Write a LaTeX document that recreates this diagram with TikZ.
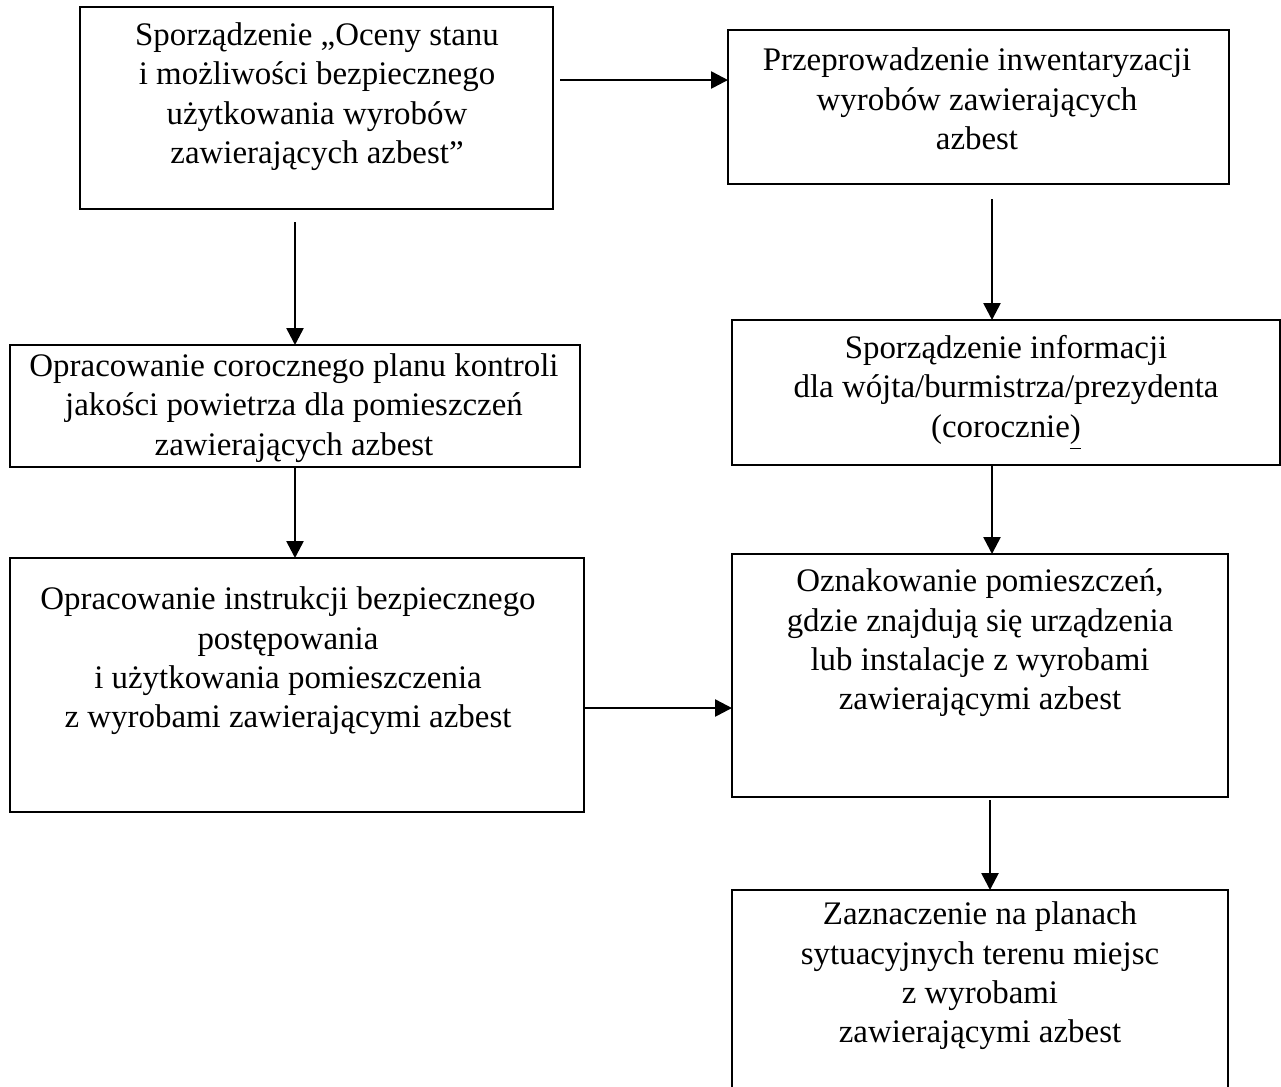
\documentclass[tikz,border=0pt]{standalone}
\usepackage{fontspec}
\setmainfont{Liberation Serif}
\usepackage{tikz}
\usetikzlibrary{arrows.meta,positioning,calc}
\newcommand{\px}{0.0125cm}
\tikzset{
	ramka/.style 2 args={draw, line width=0.9pt, inner sep=0pt, outer sep=0pt,
		minimum width=#1*\px, minimum height=#2*\px},
	tekst/.style={align=center, inner sep=0pt, font=\fontsize{11.7}{14}\selectfont},
	strzalka/.style={line width=0.9pt, -{Triangle[length=6pt,width=6pt]}}
}

\begin{document}
\begin{tikzpicture}[x=\px, y=-\px]
		\useasboundingbox (0,0) rectangle (1281,1086);
		% ramki
		\node[ramka={473}{202}] (A) at (316.5,108) {};
		\node[ramka={501}{154}] (B) at (978.5,107) {};
		\node[ramka={570}{122}] (C) at (295,406) {};
		\node[ramka={548}{145}] (D) at (1006,392.5) {};
		\node[ramka={574}{254}] (E) at (297,685) {};
		\node[ramka={496}{243}] (F) at (980,675.5) {};
		\node[ramka={496}{220}] (G) at (980,1000) {};
		% teksty
		\node[tekst] (At) at (317,96.5) {Sporządzenie „Oceny stanu\\ i możliwości bezpiecznego\\ użytkowania wyrobów\\ zawierających azbest”};
		\node[tekst] (Bt) at (977,99) {Przeprowadzenie inwentaryzacji\\ wyrobów zawierających\\ azbest};
		\node[tekst] (Ct) at (294,408) {Opracowanie corocznego planu kontroli\\ jakości powietrza dla pomieszczeń\\ zawierających azbest};
		\node[tekst] (Dt) at (1006,392.5) {Sporządzenie informacji\\ dla wójta/burmistrza/prezydenta\\ (corocznie\underline{)}};
		\node[tekst] (Et) at (288,661) {Opracowanie instrukcji bezpiecznego\\ postępowania\\ i użytkowania pomieszczenia\\ z wyrobami zawierającymi azbest};
		\node[tekst] (Ft) at (980,643) {Oznakowanie pomieszczeń,\\ gdzie znajdują się urządzenia\\ lub instalacje z wyrobami\\ zawierającymi azbest};
		\node[tekst] (Gt) at (980,976) {Zaznaczenie na planach\\ sytuacyjnych terenu miejsc\\ z wyrobami\\ zawierającymi azbest};
		% strzalki
		\coordinate (s1) at (560,80);
		\coordinate (s2) at (295,222);
		\coordinate (s3) at (992,199);
		\coordinate (s6) at (584,708);
		\coordinate (s7) at (990,800);
		\draw[strzalka] (s1) -- (s1 -| B.west);
		\draw[strzalka] (s2) -- (C.north);
		\draw[strzalka] (s3) -- (s3 |- D.north);
		\draw[strzalka] (C.south) -- (C.south |- E.north);
		\draw[strzalka] (s3 |- D.south) -- (s3 |- F.north);
		\draw[strzalka] (s6) -- (s6 -| F.west);
		\draw[strzalka] (s7) -- (s7 |- G.north);
\end{tikzpicture}
\end{document}
